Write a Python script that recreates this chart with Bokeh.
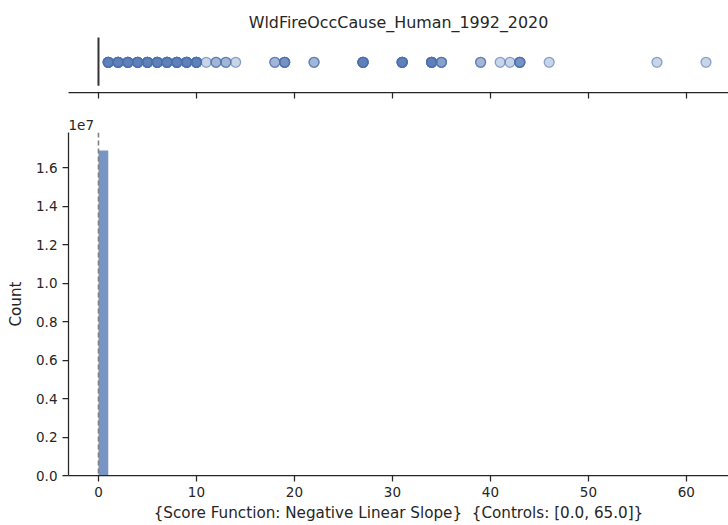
import numpy as np
from bokeh.plotting import figure
from bokeh.layouts import column
from bokeh.models import Range1d, FixedTicker, Span, Title, ColumnDataSource
from bokeh.embed import file_html
from bokeh.resources import INLINE

# ---- data ----
title_text = "WldFireOccCause_Human_1992_2020"
x_label = "{Score Function: Negative Linear Slope}\u00a0\u00a0{Controls: [0.0, 65.0]}"
y_label = "Count"
y_scale_text = "1e7"

# strip plot values (top panel) and how many times each occurs (darker = more)
strip_values = [1, 2, 3, 4, 5, 6, 7, 8, 9, 10, 11, 12, 13, 14, 18, 19, 22, 27, 31,
                34, 35, 39, 41, 42, 43, 46, 57, 62]
strip_counts = [6, 6, 6, 6, 6, 6, 6, 6, 6, 6, 1, 2, 2, 1, 2, 4, 2, 6, 6,
                6, 3, 2, 1, 1, 4, 1, 1, 1]

# histogram (bottom panel)
hist_edges = [0, 1]
hist_counts = [16880000]

x_ticks = [0, 10, 20, 30, 40, 50, 60]
y_ticks = [0, 2e6, 4e6, 6e6, 8e6, 10e6, 12e6, 14e6, 16e6]
y_tick_labels = ["0.0", "0.2", "0.4", "0.6", "0.8", "1.0", "1.2", "1.4", "1.6"]
control_line = 0.0

# ---- style ----
FONT = "DejaVu Sans"
DARK = "#262626"
BLUE = "#4c72b0"

x_range = Range1d(-3.06, 64.3)

def style_axis(ax):
    ax.axis_line_color = DARK
    ax.axis_line_width = 1.25
    ax.major_tick_line_color = DARK
    ax.major_tick_line_width = 1.25
    ax.major_tick_out = 6
    ax.major_tick_in = 0
    ax.minor_tick_line_color = None
    ax.major_label_text_font = FONT
    ax.major_label_text_font_size = "13.5px"
    ax.major_label_text_color = DARK
    ax.axis_label_text_font = FONT
    ax.axis_label_text_font_size = "15.2px"
    ax.axis_label_text_font_style = "normal"
    ax.axis_label_text_color = DARK

# ---- top strip figure ----
top = figure(width=728, height=100, x_range=x_range, y_range=Range1d(0, 1),
             output_backend="svg", toolbar_location=None,
             min_border_left=68, min_border_right=0, min_border_top=35,
             min_border_bottom=8)
top.title.text = title_text
top.title.align = "center"
top.title.text_font = FONT
top.title.text_font_size = "15.9px"
top.title.text_font_style = "normal"
top.title.text_color = DARK
top.title.offset = 4
top.title.standoff = 8
top.outline_line_color = None
top.grid.visible = False
top.yaxis.visible = False
style_axis(top.xaxis[0])
top.xaxis.ticker = FixedTicker(ticks=x_ticks)
top.xaxis.major_label_overrides = {t: "" for t in x_ticks}

sx = np.repeat(strip_values, strip_counts)
src = ColumnDataSource(dict(x=sx, y=np.full(len(sx), 0.53)))
top.scatter("x", "y", source=src, size=10, fill_color=BLUE, fill_alpha=0.3,
            line_color=BLUE, line_alpha=0.6, line_width=1.3)
top.segment(x0=[control_line], y0=[0.12], x1=[control_line], y1=[0.965],
            line_color="#333333", line_width=2)

# ---- main histogram figure ----
y_top = 1.782e7
p = figure(width=728, height=425, x_range=x_range, y_range=Range1d(0, y_top),
           output_backend="svg", toolbar_location=None,
           min_border_left=68, min_border_right=0, min_border_top=32,
           min_border_bottom=50)
p.outline_line_color = None
p.grid.visible = False
style_axis(p.xaxis[0])
style_axis(p.yaxis[0])
p.xaxis.ticker = FixedTicker(ticks=x_ticks)
p.yaxis.ticker = FixedTicker(ticks=y_ticks)
p.yaxis.major_label_overrides = {int(t): l for t, l in zip(y_ticks, y_tick_labels)}
p.xaxis.axis_label = x_label
p.yaxis.axis_label = y_label
p.xaxis.axis_label_standoff = 4
p.yaxis.axis_label_standoff = 8

p.quad(left=hist_edges[:-1], right=hist_edges[1:], bottom=[0] * len(hist_counts),
       top=hist_counts, fill_color=BLUE, fill_alpha=0.75, line_color=None)
p.add_layout(Span(location=control_line, dimension="height", line_color="#808080",
                  line_width=1.6, line_dash="5 3"))
p.add_layout(Title(text=y_scale_text, align="left", text_font=FONT,
                   text_font_size="13.5px", text_font_style="normal",
                   text_color=DARK, offset=0, standoff=5), "above")

layout = column(top, p, spacing=0)
open("out.html", "w").write(file_html(layout, INLINE))
